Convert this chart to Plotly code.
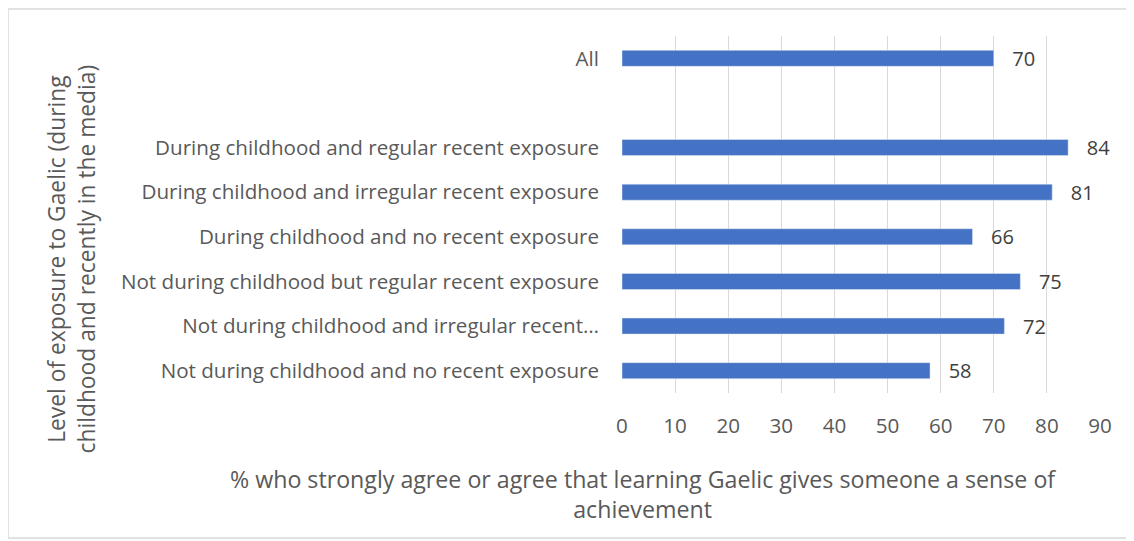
"""Gaelic exposure vs sense of achievement - horizontal bar chart."""

import plotly.graph_objects as go

categories = [
    "All",
    " ",
    "During childhood and regular recent exposure",
    "During childhood and irregular recent exposure",
    "During childhood and no recent exposure",
    "Not during childhood but regular recent exposure",
    "Not during childhood and irregular recent…",
    "Not during childhood and no recent exposure",
]
values = [70, None, 84, 81, 66, 75, 72, 58]
x_ticks = [0, 10, 20, 30, 40, 50, 60, 70, 80, 90]

BAR_COLOR = "#4472C4"
TEXT_COLOR = "#595959"
FONT = "Open Sans"

fig = go.Figure(go.Bar(
    y=categories,
    x=values,
    orientation="h",
    marker=dict(color=BAR_COLOR),
    width=0.36,
    text=[("   " + str(v)) if v is not None else "" for v in values],
    textposition="outside",
    constraintext="none",
    textfont=dict(color="#404040", size=20, family=FONT),
    cliponaxis=False,
))

# the page has an 8px body margin, so the figure is 16px smaller than the window
fig.update_layout(
    width=1126, height=533,
    margin=dict(l=614, r=34, t=28, b=148),
    plot_bgcolor="white", paper_bgcolor="white",
    font=dict(family=FONT, size=20.6, color=TEXT_COLOR),
    showlegend=False,
)

fig.update_xaxes(
    range=[0, 90], tickvals=x_ticks, showgrid=True, gridcolor="#d9d9d9",
    gridwidth=1, zeroline=False, showline=False, ticks="",
    ticklabelstandoff=18,
)
fig.update_yaxes(
    categoryorder="array", categoryarray=categories, autorange="reversed",
    showgrid=False, zeroline=False, showline=False, ticks="",
    ticklabelstandoff=22,
)

# axis titles placed as annotations
fig.add_annotation(
    text="Level of exposure to Gaelic (during<br>childhood and recently in the media)",
    xref="paper", yref="paper", x=-1.152, y=0.375, textangle=-90,
    xanchor="center", yanchor="middle",
    showarrow=False, font=dict(size=22.8, color=TEXT_COLOR), align="center",
)
fig.add_annotation(
    text="% who strongly agree or agree that learning Gaelic gives someone a sense of<br>achievement",
    xref="paper", yref="paper", x=0.044, y=-0.283,
    xanchor="center", yanchor="middle",
    showarrow=False, font=dict(size=23.2, color=TEXT_COLOR), align="center",
)

# chart border
fig.add_shape(
    type="rect", xref="paper", yref="paper",
    x0=-1.2845, x1=1.0628, y0=-0.406, y1=1.0756,
    line=dict(color="#d9d9d9", width=1.5), layer="below",
)

fig.write_html("out.html")
